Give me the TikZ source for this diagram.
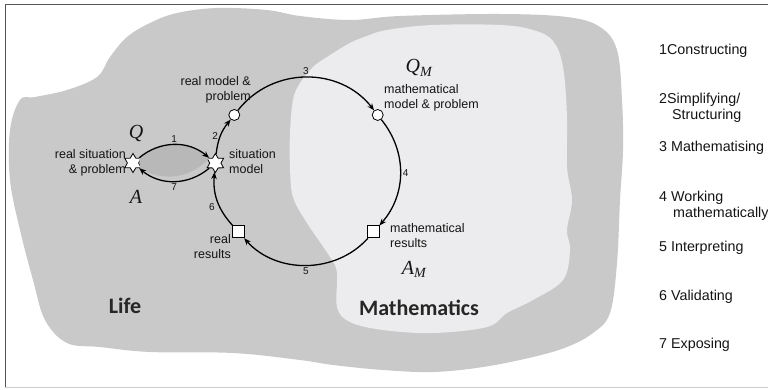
\documentclass[tikz,border=0pt]{standalone}
\usepackage{fontspec}
\setmainfont{Liberation Sans}
\newfontfamily\regionfont{Carlito}
\newfontfamily\letterfont{Liberation Serif}
\usetikzlibrary{shapes.geometric,arrows.meta}
\definecolor{lifegray}{HTML}{C9C9C9}
\definecolor{mathgray}{HTML}{ECECEE}
\definecolor{loopgray}{HTML}{B8B8B8}
\definecolor{framegray}{HTML}{555555}
\definecolor{inkgray}{HTML}{141414}

\begin{document}
\begin{tikzpicture}[x=1pt, y=1pt,
    every node/.style={text=inkgray},
    label text/.style={font=\fontsize{12.5}{15}\selectfont, align=left, inner sep=0pt},
    step num/.style={font=\fontsize{10}{12}\selectfont, inner sep=2pt},
    letter/.style={font=\letterfont\itshape\fontsize{20}{22}\selectfont, inner sep=0pt},
    situation/.style={star, star points=6, star point ratio=1.7, draw=black, fill=white, line width=0.8pt, minimum size=19pt, inner sep=0pt},
    model/.style={circle, draw=black, fill=white, line width=0.8pt, minimum size=11pt, inner sep=0pt},
    result/.style={rectangle, draw=black, fill=white, line width=0.8pt, minimum size=12pt, inner sep=0pt},
    cycle arrow/.style={line width=1.3pt, -{Stealth[length=7pt,width=5.5pt]}},
    legend/.style={font=\fontsize{14.3}{16}\selectfont, anchor=west, align=left, inner sep=0pt},
    region/.style={font=\regionfont\bfseries\fontsize{22}{24}\selectfont, text=black!85}
]
\useasboundingbox (0,0) rectangle (768,389);
\draw[framegray, line width=1pt] (768,384) -- (5,384) -- (5,2);
\draw[black!20, line width=1pt] (5,2) -- (768,2);

\fill[lifegray] plot[smooth cycle, tension=0.6] coordinates {
    (10,259) (20,289) (35,292) (67,299) (97,312) (110,332) (127,352) (150,366)
    (177,376) (217,381) (267,379) (300,373) (350,369) (400,373) (500,375)
    (567,372) (600,362) (617,339) (622,289) (623,239) (620,189) (617,126)
    (610,76) (593,56) (567,42) (533,32) (483,22) (433,17) (383,19) (333,24)
    (300,29) (233,36) (150,37) (100,42) (67,46) (45,69) (33,109) (20,159) (10,209)};
\fill[mathgray] plot[smooth cycle, tension=0.6] coordinates {
    (327,332) (350,346) (367,353) (387,359) (433,364) (500,364) (533,359)
    (553,348) (563,322) (567,272) (567,222) (572,189) (567,159) (570,139)
    (563,109) (533,89) (507,76) (487,62) (433,56) (383,59) (350,67) (337,82)
    (337,116) (330,132) (307,166) (293,192) (290,222) (290,256) (293,289)
    (300,306) (313,322)};

\coordinate (hub) at (306,218);
\node[situation] (ls) at (133,226) {};
\node[situation] (sm) at ([shift={(175:91)}]hub) {};
\node[model] (rm) at ([shift={(142:91)}]hub) {};
\node[model] (mm) at ([shift={(38:91)}]hub) {};
\node[result] (mr) at ([shift={(318:91)}]hub) {};
\node[result] (rr) at ([shift={(222:91)}]hub) {};

\fill[loopgray] (ls) to[bend left=40] (sm) to[bend left=40] (ls);
\draw[cycle arrow] (ls) to[bend left=40] node[step num, above] {1} (sm);
\draw[cycle arrow] (sm) to[bend left=40] node[step num, below] {7} (ls);
\draw[cycle arrow] (sm) to[bend left=16.5] node[step num, left] {2} (rm);
\draw[cycle arrow] (rm) to[bend left=52, looseness=1.05] node[step num, above] {3} (mm);
\draw[cycle arrow] (mm) to[bend left=40] node[step num, right] {4} (mr);
\draw[cycle arrow] (mr) to[bend left=48] node[step num, below] {5} (rr);
\draw[cycle arrow] (rr) to[bend left=23.5] node[step num, below left] {6} (sm);

\node[label text, align=right, anchor=east] (lstext) at (126,226) {real situation\\\& problem};
\node[label text, anchor=west] (smtext) at (229,227.5) {situation\\model};
\node[label text, align=right, anchor=east] (rmtext) at (251,299) {real model \&\\problem};
\node[label text, anchor=west] (mmtext) at (384,291) {mathematical\\model \& problem};
\node[label text, anchor=west] (mrtext) at (390,153.5) {mathematical\\results};
\node[label text, align=right, anchor=east] (rrtext) at (231,142.5) {real\\results};

\node[letter] (q) at (136,256) {Q};
\node[letter] (a) at (136,192) {A};
\node[letter] (qm) at (419,321) {Q\textsubscript{M}};
\node[letter] (am) at (414,120) {A\textsubscript{M}};

\node[region] (life) at (125,83) {Life};
\node[region] (maths) at (419,81) {Mathematics};

\node[legend] (c1) at (659,338) {1Constructing};
\node[legend] (c2) at (659,281.5) {2Simplifying/\\\hspace*{13pt}Structuring};
\node[legend] (c3) at (659,241) {3 Mathematising};
\node[legend] (c4) at (659,183) {4 Working\\\hspace*{14pt}mathematically};
\node[legend] (c5) at (659,141) {5 Interpreting};
\node[legend] (c6) at (659,92) {6 Validating};
\node[legend] (c7) at (659,44) {7 Exposing};
\end{tikzpicture}
\end{document}
